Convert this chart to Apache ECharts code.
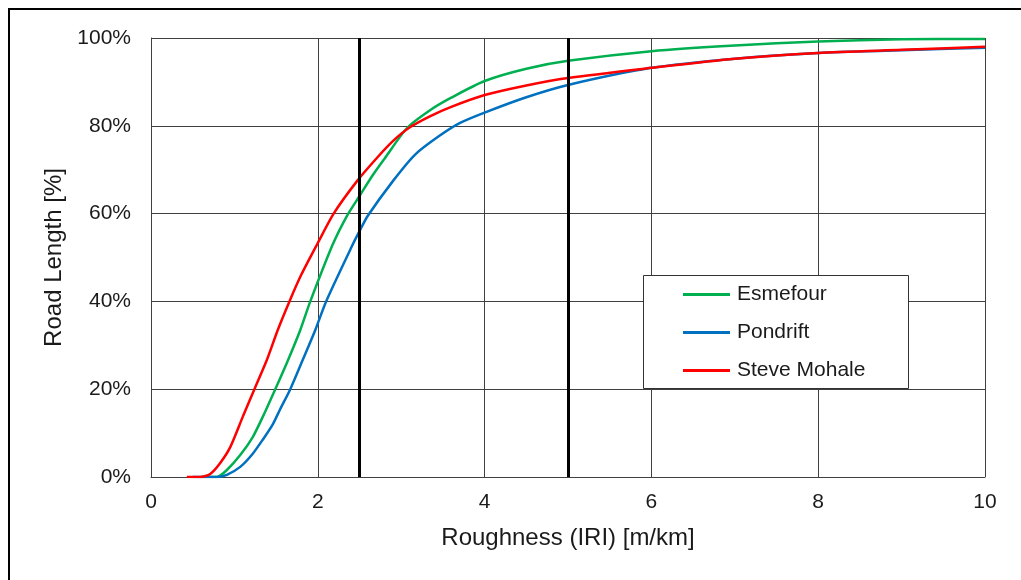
<!DOCTYPE html>
<html>
<head>
<meta charset="utf-8">
<script src="https://cdn.jsdelivr.net/npm/echarts@6/dist/echarts.min.js"></script>
<style>
  html, body { margin: 0; padding: 0; background: #fff; }
  #chart { width: 1021px; height: 580px; }
</style>
</head>
<body>
<div id="chart"></div>
<script>
// 坐标刻度
var xTicks = [0, 2, 4, 6, 8, 10];
var yTicks = [0, 20, 40, 60, 80, 100];
// 竖线位置 (IRI)
var thresholds = [2.5, 5];

// Esmefour
var esmefourIri = [0.6, 0.79, 0.91, 1.07, 1.22, 1.34, 1.49, 1.64, 1.79, 1.91, 2.18, 2.35, 2.5, 2.65, 2.8, 3.07, 3.35, 3.6, 4.0, 4.5, 5.0, 6.0, 7.0, 8.0, 9.0, 10];
var esmefourPct = [0, 0, 1.6, 5, 9.1, 13.7, 20, 26.5, 33.5, 40, 53, 59.5, 64, 68.5, 72.5, 79.5, 83.6, 86.4, 90.2, 93, 94.8, 97, 98.3, 99.2, 99.7, 99.8];
// Pondrift
var pondriftIri = [0.5, 0.79, 0.91, 1.07, 1.22, 1.34, 1.46, 1.55, 1.67, 1.82, 1.97, 2.1, 2.42, 2.5, 2.6, 2.9, 3.17, 3.45, 3.7, 4.0, 4.5, 5.0, 6.0, 7.0, 8.0, 9.0, 10];
var pondriftPct = [0, 0, 0.5, 2.3, 5.3, 8.5, 12, 15.5, 20, 26.7, 33.5, 40, 53, 56, 59.5, 67.4, 73.5, 77.6, 80.6, 83, 86.5, 89.3, 93.2, 95.3, 96.6, 97.2, 97.8];
// Steve Mohale
var steveIri = [0.43, 0.59, 0.71, 0.83, 0.95, 1.1, 1.24, 1.39, 1.52, 1.66, 1.8, 2.0, 2.19, 2.47, 2.7, 2.9, 3.1, 3.35, 3.6, 4.0, 4.5, 5.0, 6.0, 7.0, 8.0, 9.0, 10];
var stevePct = [0, 0, 0.7, 3.2, 6.8, 13.7, 20, 26.7, 33.5, 40, 46, 53.3, 60, 67.4, 72.5, 76.5, 79.6, 82.2, 84.3, 87, 89.2, 90.9, 93.2, 95.3, 96.6, 97.3, 98];

function zip(xs, ys) {
  return xs.map(function (x, i) { return [x, ys[i]]; });
}

var fontFamily = '"Liberation Sans", Arial, sans-serif';
var textColor = '#1a1a1a';
var gridColor = '#404040';

function curve(name, xs, ys, color) {
  return {
    name: name,
    type: 'line',
    data: zip(xs, ys),
    smooth: 0.25,
    showSymbol: false,
    color: color,
    lineStyle: { width: 2.5 }
  };
}

var myChart = echarts.init(document.getElementById('chart'));
var steveSeries = curve('Steve Mohale', steveIri, stevePct, '#FF0000');
steveSeries.markLine = {
  silent: true,
  symbol: 'none',
  label: { show: false },
  lineStyle: { color: '#000', width: 3, type: 'solid' },
  data: thresholds.map(function (v) { return { xAxis: v }; })
};

var option = {
  animation: false,
  backgroundColor: '#fff',
  grid: {
    left: 151,
    right: 36,
    top: 38,
    bottom: 103
  },
  graphic: [
    {
      // 外框
      type: 'rect',
      z: 0,
      shape: { x: 9, y: 9, width: 1100, height: 700 },
      style: { fill: 'none', stroke: '#000', lineWidth: 2 }
    },
    {
      // 图例框
      type: 'rect',
      z: 5,
      shape: { x: 643.5, y: 275.5, width: 265, height: 113 },
      style: { fill: '#fff', stroke: '#333', lineWidth: 1 }
    }
  ],
  legend: {
    orient: 'vertical',
    left: 683,
    top: 284,
    z: 10,
    icon: 'rect',
    itemWidth: 47,
    itemHeight: 3,
    itemGap: 17,
    padding: 0,
    textStyle: {
      fontFamily: fontFamily,
      fontSize: 21,
      lineHeight: 21,
      color: textColor,
      padding: [0, 0, 0, 2]
    },
    data: ['Esmefour', 'Pondrift', 'Steve Mohale']
  },
  xAxis: {
    type: 'value',
    min: xTicks[0],
    max: xTicks[xTicks.length - 1],
    interval: xTicks[1] - xTicks[0],
    name: 'Roughness (IRI) [m/km]',
    nameLocation: 'middle',
    nameGap: 49,
    nameTextStyle: { fontFamily: fontFamily, fontSize: 24, color: textColor },
    axisLine: { lineStyle: { color: gridColor, width: 1 } },
    axisTick: { show: false },
    axisLabel: {
      margin: 15,
      fontFamily: fontFamily,
      fontSize: 21,
      color: textColor
    },
    splitLine: { show: true, lineStyle: { color: gridColor, width: 1 } }
  },
  yAxis: {
    type: 'value',
    min: yTicks[0],
    max: yTicks[yTicks.length - 1],
    interval: yTicks[1] - yTicks[0],
    name: 'Road Length [%]',
    nameLocation: 'middle',
    nameGap: 84,
    nameTextStyle: { fontFamily: fontFamily, fontSize: 24, color: textColor },
    axisLine: { show: true, lineStyle: { color: gridColor, width: 1 } },
    axisTick: { show: false },
    axisLabel: {
      margin: 20,
      fontFamily: fontFamily,
      fontSize: 21,
      color: textColor,
      formatter: '{value}%'
    },
    splitLine: { show: true, lineStyle: { color: gridColor, width: 1 } }
  },
  series: [
    curve('Esmefour', esmefourIri, esmefourPct, '#00B050'),
    curve('Pondrift', pondriftIri, pondriftPct, '#0070C0'),
    steveSeries
  ]
};
myChart.setOption(option);
</script>
</body>
</html>
